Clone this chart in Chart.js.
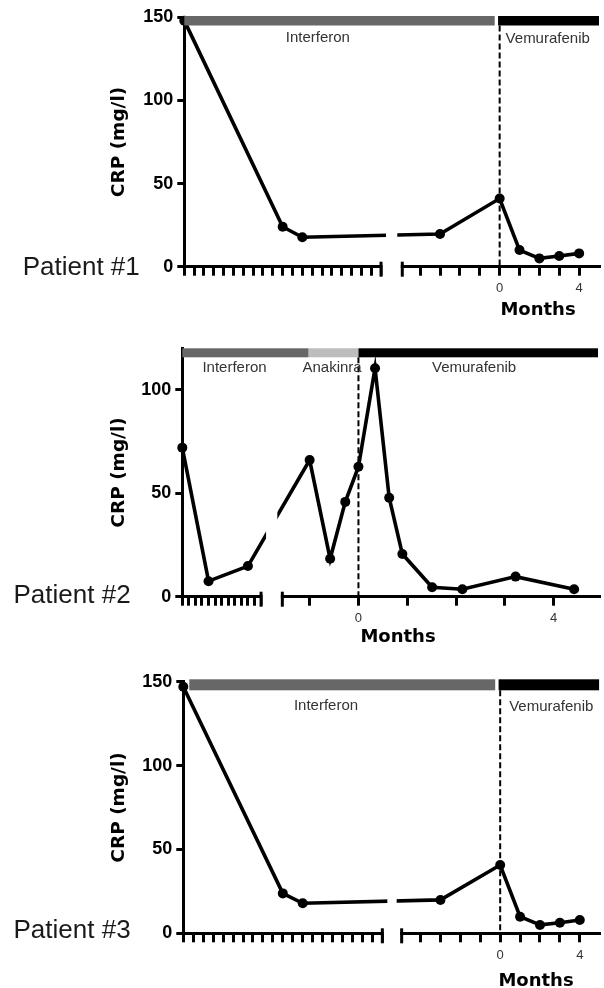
<!DOCTYPE html>
<html>
<head>
<meta charset="utf-8">
<script src="https://cdn.jsdelivr.net/npm/chart.js@4.4.0/dist/chart.umd.min.js"></script>
<style>
html, body { margin: 0; padding: 0; background: #fff; }
#wrap { position: relative; width: 604px; height: 988px; overflow: hidden; }
canvas { position: absolute; left: 0; }
</style>
</head>
<body>
<div id="wrap">
  <canvas id="c1" width="604" height="330" style="top:0px"></canvas>
  <canvas id="c2" width="604" height="330" style="top:330px"></canvas>
  <canvas id="c3" width="604" height="328" style="top:660px"></canvas>
</div>
<script>
// ---- data ----
// left segment: position in left-axis ticks, right segment: months
const p1LeftTicks = [0, 10, 12];
const p1LeftCrp = [148, 24, 17.7];
const p1Months = [-3, 0, 1, 2, 3, 4];
const p1Crp = [19.7, 41, 10, 5, 6.4, 8];

const p2LeftTicks = [0, 4, 10];
const p2LeftCrp = [72, 7.5, 14.8];
const p2Months = [-1, -0.58, -0.27, 0, 0.34, 0.63, 0.9, 1.51, 2.13, 3.22, 4.42];
const p2Crp = [66, 18.3, 45.8, 62.8, 110.4, 47.8, 20.6, 4.6, 3.6, 9.7, 3.6];

const p3LeftTicks = [0, 10, 12];
const p3LeftCrp = [147, 23.8, 17.9];
const p3Months = [-3, 0, 1, 2, 3, 4];
const p3Crp = [19.9, 40.7, 9.9, 5, 6.3, 7.9];

const yTicks150 = [0, 50, 100, 150];
const yTicks120 = [0, 50, 100];
const monthLabels = [0, 4];

// treatment periods (months on the axis)
const p1Treat = ['Interferon', 'Vemurafenib'];
const p1TreatStart = [-15.87, -0.08];
const p1TreatEnd = [-0.25, 5];
const p2Treat = ['Interferon', 'Anakinra', 'Vemurafenib'];
const p2TreatStart = [-3.61, -1.02, 0];
const p2TreatEnd = [-1.02, 0, 4.91];
const p3Treat = ['Interferon', 'Vemurafenib'];
const p3TreatStart = [-15.62, -0.08];
const p3TreatEnd = [-0.25, 4.97];

const treatColors = { Interferon: '#676767', Anakinra: '#bdbdbd', Vemurafenib: '#000' };

Chart.defaults.font.family = '"Liberation Sans", Arial, sans-serif';

const panels = [
  {
    id: 'c1', name: 'Patient #1',
    leftTicks: p1LeftTicks, leftCrp: p1LeftCrp, months: p1Months, crp: p1Crp,
    yTicks: yTicks150, yMax: 150,
    treat: p1Treat, tStart: p1TreatStart, tEnd: p1TreatEnd,
    axis: { leftStart: -15.87, leftStep: 0.495, leftCount: 20, rightStart: -4.9, max: 5 },
    box: { left: 184.3, right: 604, top: 17.3, bottom: 266.7, height: 330 },
    barOff: -1.3, barH: 9.5,
    labels: [{ at: -9.15, align: 'center', dy: 20.4 }, { at: 0.3, align: 'left', dy: 21.5 }],
    patient: { x: 22.7, y: 275 }, monthsTitle: { x: 538, y: 310 }
  },
  {
    id: 'c2', name: 'Patient #2',
    leftTicks: p2LeftTicks, leftCrp: p2LeftCrp, months: p2Months, crp: p2Crp,
    yTicks: yTicks120, yMax: 120,
    treat: p2Treat, tStart: p2TreatStart, tEnd: p2TreatEnd,
    axis: { leftStart: -3.61, leftStep: 0.1345, leftCount: 12, rightStart: -1.56, max: 4.93 },
    box: { left: 182.3, right: 603, top: 18.3, bottom: 266.7, height: 330 },
    barOff: 0, barH: 9,
    labels: [{ at: -2.54, align: 'center', dy: 20 }, { at: -0.54, align: 'center', dy: 20 }, { at: 2.37, align: 'center', dy: 20 }],
    patient: { x: 13.5, y: 273 }, monthsTitle: { x: 398, y: 307 }
  },
  {
    id: 'c3', name: 'Patient #3',
    leftTicks: p3LeftTicks, leftCrp: p3LeftCrp, months: p3Months, crp: p3Crp,
    yTicks: yTicks150, yMax: 150,
    treat: p3Treat, tStart: p3TreatStart, tEnd: p3TreatEnd,
    axis: { leftStart: -15.92, leftStep: 0.5, leftCount: 20, rightStart: -4.95, max: 4.965 },
    box: { left: 183.3, right: 601, top: 21.7, bottom: 273.3, height: 328 },
    barOff: -2.4, barH: 11,
    labels: [{ at: -8.75, align: 'center', dy: 24 }, { at: 0.45, align: 'left', dy: 25.5 }],
    patient: { x: 13.5, y: 278 }, monthsTitle: { x: 536, y: 321 }
  }
];

// break in the axis, treatment bars, dashed start line and free labels
const decor = {
  id: 'decor',
  beforeDatasetsDraw(chart, args, o) {
    const { ctx, chartArea: ca, scales: { x } } = chart;
    const x0 = x.getPixelForValue(0);
    ctx.save();
    ctx.strokeStyle = '#000';
    ctx.lineWidth = 2;
    ctx.setLineDash([6, 3]);
    ctx.beginPath();
    ctx.moveTo(x0, ca.top + o.barOff + o.barH);
    ctx.lineTo(x0, ca.bottom);
    ctx.stroke();
    ctx.restore();
  },
  afterDatasetsDraw(chart, args, o) {
    const { ctx, chartArea: ca, scales: { x } } = chart;
    const a = x.getPixelForValue(o.leftEnd);
    const b = x.getPixelForValue(o.rightStart);
    ctx.save();
    ctx.fillStyle = '#fff';
    ctx.fillRect(a + 5, ca.top + o.barOff + o.barH + 1, b - a - 10, ca.bottom - ca.top);
    ctx.fillRect(a + 1.5, ca.bottom - 5, b - a - 3, 20);
    ctx.strokeStyle = '#000';
    ctx.lineWidth = 3;
    [a, b].forEach(p => {
      ctx.beginPath();
      ctx.moveTo(p, ca.bottom - 5);
      ctx.lineTo(p, ca.bottom + 10);
      ctx.stroke();
    });
    ctx.restore();
  },
  afterDraw(chart, args, o) {
    const { ctx, chartArea: ca, scales: { x } } = chart;
    ctx.save();
    o.treat.forEach((name, i) => {
      const x1 = x.getPixelForValue(o.tStart[i]);
      const x2 = x.getPixelForValue(o.tEnd[i]);
      ctx.fillStyle = treatColors[name];
      ctx.fillRect(x1, ca.top + o.barOff, x2 - x1, o.barH);
    });
    ctx.font = '15px "Liberation Sans", Arial, sans-serif';
    ctx.fillStyle = '#333';
    ctx.textBaseline = 'middle';
    o.treat.forEach((name, i) => {
      const l = o.labels[i];
      ctx.textAlign = l.align;
      ctx.fillText(name, x.getPixelForValue(l.at), ca.top + l.dy);
    });
    ctx.textBaseline = 'alphabetic';
    ctx.textAlign = 'left';
    ctx.fillStyle = '#1a1a1a';
    ctx.font = '26px "Liberation Sans", Arial, sans-serif';
    ctx.fillText(o.name, o.patient.x, o.patient.y);
    ctx.textAlign = 'center';
    ctx.textBaseline = 'middle';
    ctx.fillStyle = '#000';
    ctx.font = 'bold 18px "DejaVu Sans", sans-serif';
    ctx.fillText('Months', o.monthsTitle.x, o.monthsTitle.y);
    ctx.restore();
  }
};

panels.forEach(p => {
  const ax = p.axis;
  const pts = p.leftTicks.map((t, i) => ({ x: ax.leftStart + t * ax.leftStep, y: p.leftCrp[i] }))
    .concat(p.months.map((m, i) => ({ x: m, y: p.crp[i] })));
  const leftEnd = ax.leftStart + ax.leftCount * ax.leftStep;

  new Chart(document.getElementById(p.id), {
    type: 'line',
    data: {
      datasets: [{
        data: pts,
        borderColor: '#000',
        borderWidth: 3.6,
        tension: 0,
        pointRadius: 5,
        pointBackgroundColor: '#000',
        pointBorderWidth: 0,
        clip: false
      }]
    },
    options: {
      responsive: false,
      animation: false,
      devicePixelRatio: 1,
      layout: { padding: { left: 0, right: 604 - p.box.right, top: p.box.top, bottom: 0 } },
      plugins: {
        legend: { display: false },
        tooltip: { enabled: false },
        decor: {
          leftEnd: leftEnd, rightStart: ax.rightStart,
          treat: p.treat, tStart: p.tStart, tEnd: p.tEnd,
          barOff: p.barOff, barH: p.barH, labels: p.labels,
          name: p.name, patient: p.patient, monthsTitle: p.monthsTitle
        }
      },
      scales: {
        x: {
          type: 'linear',
          min: ax.leftStart,
          max: ax.max,
          afterBuildTicks: s => {
            const t = [];
            for (let i = 0; i <= ax.leftCount; i++) t.push({ value: ax.leftStart + i * ax.leftStep });
            for (let m = Math.ceil(ax.rightStart); m < ax.max - 0.1; m++) t.push({ value: m });
            s.ticks = t;
          },
          afterFit: s => { s.height = p.box.height - p.box.bottom; },
          grid: { drawOnChartArea: false, drawTicks: true, tickLength: 9, lineWidth: 3, color: '#000' },
          border: { display: true, width: 3, color: '#000' },
          ticks: {
            autoSkip: false,
            maxRotation: 0,
            padding: 5,
            color: '#333',
            font: { size: 13 },
            callback: v => monthLabels.includes(v) ? String(v) : ''
          }
        },
        y: {
          min: 0,
          max: p.yMax,
          afterBuildTicks: s => { s.ticks = p.yTicks.map(v => ({ value: v })); },
          afterFit: s => { s.width = p.box.left; },
          grid: { drawOnChartArea: false, drawTicks: true, tickLength: 7, lineWidth: 3, color: '#000' },
          border: { display: true, width: 3, color: '#000' },
          ticks: { padding: 4, color: '#000', font: { size: 18, weight: 'bold' } },
          title: {
            display: true,
            text: 'CRP (mg/l)',
            color: '#000',
            padding: { top: 108.4, bottom: 0 },
            font: { family: '"DejaVu Sans", sans-serif', size: 18.5, weight: 'bold' }
          }
        }
      }
    },
    plugins: [decor]
  });
});
</script>
</body>
</html>
